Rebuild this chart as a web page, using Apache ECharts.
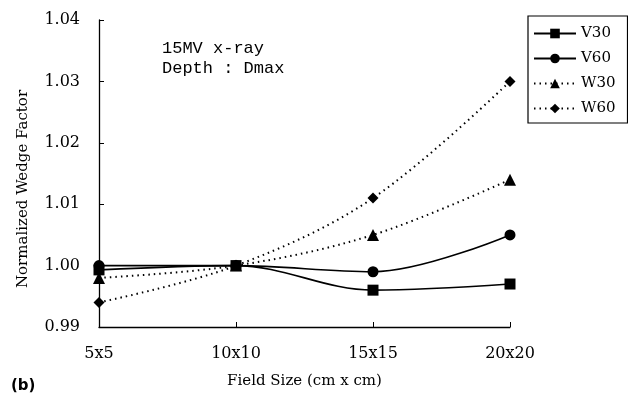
<!DOCTYPE html>
<html>
<head>
<meta charset="utf-8">
<script src="https://cdn.jsdelivr.net/npm/echarts@6/dist/echarts.min.js"></script>
<style>
  html, body { margin: 0; padding: 0; background: #fff; }
  #chart { width: 628px; height: 407px; }
</style>
</head>
<body>
<div id="chart"></div>
<script>
// Field sizes along the x axis
var fieldSizes = ['5x5', '10x10', '15x15', '20x20'];

// Normalized wedge factors (normalized to 10x10)
var v30 = [0.9993, 1.000, 0.996, 0.997];
var v60 = [1.000, 1.000, 0.999, 1.005];
var w30 = [0.998, 1.000, 1.005, 1.014];
var w60 = [0.994, 1.000, 1.011, 1.030];

var yMin = 0.99, yMax = 1.04, yStep = 0.01;

var serif = '"DejaVu Serif", "Liberation Serif", serif';

function lineSeries(name, data, symbol, dotted, size) {
  return {
    name: name,
    type: 'line',
    data: data,
    smooth: 0.35,
    symbol: symbol,
    symbolSize: size,
    itemStyle: { color: '#000' },
    lineStyle: { color: '#000', width: dotted ? 2 : 1.6, type: dotted ? [1.5, 4] : 'solid' },
    z: 3
  };
}

var chart = echarts.init(document.getElementById('chart'), null, { renderer: 'canvas' });
chart.setOption({
  animation: false,
  backgroundColor: '#fff',
  grid: { left: 99, top: 20, right: 118, bottom: 80, containLabel: false },
  legend: {
    orient: 'vertical',
    left: 528, top: 16,
    itemGap: 10,
    itemWidth: 42, itemHeight: 12,
    padding: [10, 12, 7, 5],
    borderColor: '#000', borderWidth: 1.2,
    textStyle: { fontFamily: serif, fontSize: 15, color: '#000', padding: [0, 0, 0, 0] },
    data: ['V30', 'V60', 'W30', 'W60']
  },
  xAxis: {
    type: 'category',
    data: fieldSizes,
    boundaryGap: false,
    axisLine: { lineStyle: { color: '#000', width: 1.3 } },
    axisTick: { inside: true, length: 5, lineStyle: { color: '#000' } },
    axisLabel: { margin: 19, fontFamily: serif, fontSize: 16, color: '#000' },
    name: 'Field Size (cm x cm)',
    nameLocation: 'middle',
    nameGap: 47,
    nameTextStyle: { fontFamily: serif, fontSize: 15, color: '#000' }
  },
  yAxis: {
    type: 'value',
    min: yMin, max: yMax, interval: yStep,
    axisLine: { show: true, lineStyle: { color: '#000', width: 1.3 } },
    axisTick: { show: true, inside: true, length: 5, lineStyle: { color: '#000' } },
    splitLine: { show: false },
    axisLabel: {
      margin: 19, fontFamily: serif, fontSize: 16, color: '#000',
      formatter: function (v) { return v.toFixed(2); }
    }
  },
  graphic: [
    {
      type: 'text', x: 23, y: 189, rotation: Math.PI / 2,
      style: {
        text: 'Normalized Wedge Factor', font: '15px "DejaVu Serif", serif', fill: '#000',
        textAlign: 'center', textVerticalAlign: 'middle'
      }
    },
    {
      type: 'text', left: 162, top: 38,
      style: { text: '15MV x-ray\nDepth : Dmax', font: '17px "Liberation Mono", monospace', fill: '#000', lineHeight: 20 }
    },
    {
      type: 'text', left: 11, top: 379,
      style: { text: '(b)', font: 'bold 15px "DejaVu Sans", sans-serif', fill: '#000' }
    }
  ],
  series: [
    lineSeries('V30', v30, 'rect', false, 11),
    lineSeries('V60', v60, 'circle', false, 11),
    lineSeries('W30', w30, 'triangle', true, 12),
    lineSeries('W60', w60, 'diamond', true, 11)
  ]
});
</script>
</body>
</html>
